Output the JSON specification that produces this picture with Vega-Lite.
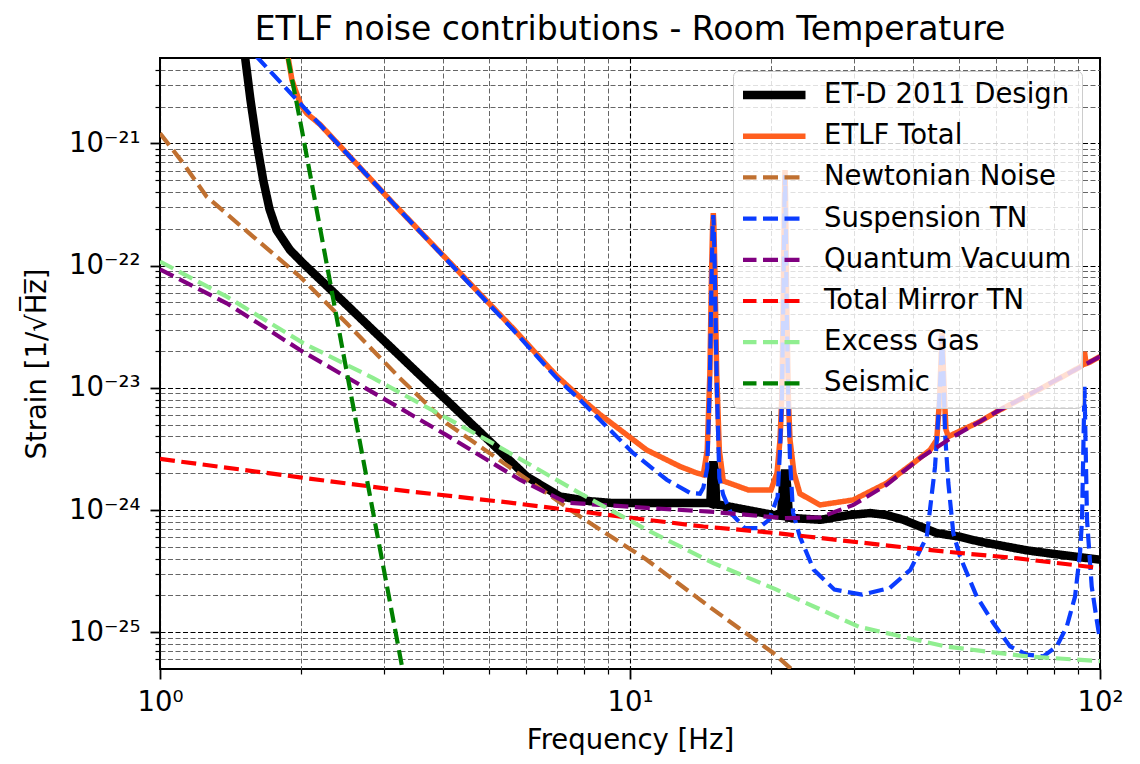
{
"$schema": "https://vega.github.io/schema/vega-lite/v6.json",
"width": 940, "height": 611,
"autosize": {"type": "none"},
"padding": {"left": 160, "top": 58, "right": 40, "bottom": 95},
"background": "white",
"title": {"text": "ETLF noise contributions - Room Temperature", "fontSize": 33, "font": "DejaVu Sans", "fontWeight": "normal", "color": "black", "anchor": "middle", "frame": "group", "offset": 11},
"config": {
  "view": {"stroke": "black", "strokeWidth": 2},
  "font": "DejaVu Sans",
  "axis": {"labelFont": "DejaVu Sans", "titleFont": "DejaVu Sans", "labelColor": "black", "titleColor": "black", "tickColor": "black", "domain": false, "titleFontWeight": "normal", "labelOverlap": false, "labelFlush": false, "labelBound": false},
  "legend": {"orient": "none", "legendX": 573, "legendY": 13, "symbolType": "stroke", "symbolSize": 4096, "symbolOffset": -6, "labelFontSize": 27.5, "labelFont": "DejaVu Sans", "labelColor": "black", "labelLimit": 400, "rowPadding": 13.2, "padding": 10, "fillColor": "rgba(255,255,255,0.8)", "strokeColor": "#cccccc", "cornerRadius": 5, "labelOffset": 14, "clipHeight": 28}
},
"resolve": {"axis": {"x": "independent", "y": "independent"}},
"layer": [
  {
    "data": {"values": [{"f": 1, "v": 1e-24}]},
    "mark": {"type": "point", "opacity": 0},
    "encoding": {
      "x": {"field": "f", "type": "quantitative", "scale": {"type": "log", "domain": [1, 100], "nice": false},
        "axis": {"orient": "bottom", "offset": 0, "values": [2,3,4,5,6,7,8,9,20,30,40,50,60,70,80,90], "labels": false, "tickSize": 5, "tickWidth": 1.2, "grid": true, "gridColor": "#555555", "gridDash": [5, 2.5], "gridWidth": 0.9, "title": null}},
      "y": {"field": "v", "type": "quantitative", "scale": {"type": "log", "domain": [5e-26, 5e-21], "nice": false},
        "axis": {"orient": "left", "offset": 0, "values": [6e-26,7e-26,8e-26,9e-26,2e-25,3e-25,4e-25,5e-25,6e-25,7e-25,8e-25,9e-25,2e-24,3e-24,4e-24,5e-24,6e-24,7e-24,8e-24,9e-24,2e-23,3e-23,4e-23,5e-23,6e-23,7e-23,8e-23,9e-23,2e-22,3e-22,4e-22,5e-22,6e-22,7e-22,8e-22,9e-22,2e-21,3e-21,4e-21], "labels": false, "tickSize": 5, "tickWidth": 1.2, "grid": true, "gridColor": "#555555", "gridDash": [5, 2.5], "gridWidth": 0.9, "title": null}}
    }
  },
  {
    "data": {"values": [
{"series":"ET-D 2011 Design","f":1.5,"v":7.0e-21},
{"series":"ET-D 2011 Design","f":1.517,"v":5.08e-21},
{"series":"ET-D 2011 Design","f":1.558,"v":2.26e-21},
{"series":"ET-D 2011 Design","f":1.609,"v":9.68e-22},
{"series":"ET-D 2011 Design","f":1.66,"v":4.9e-22},
{"series":"ET-D 2011 Design","f":1.71,"v":2.9e-22},
{"series":"ET-D 2011 Design","f":1.771,"v":1.95e-22},
{"series":"ET-D 2011 Design","f":1.891,"v":1.34e-22},
{"series":"ET-D 2011 Design","f":2.018,"v":1.04e-22},
{"series":"ET-D 2011 Design","f":2.337,"v":6.08e-23},
{"series":"ET-D 2011 Design","f":2.844,"v":2.94e-23},
{"series":"ET-D 2011 Design","f":3.574,"v":1.27e-23},
{"series":"ET-D 2011 Design","f":4.074,"v":7.91e-24},
{"series":"ET-D 2011 Design","f":4.956,"v":3.85e-24},
{"series":"ET-D 2011 Design","f":6.028,"v":1.88e-24},
{"series":"ET-D 2011 Design","f":7.097,"v":1.29e-24},
{"series":"ET-D 2011 Design","f":8.22,"v":1.18e-24},
{"series":"ET-D 2011 Design","f":9.215,"v":1.14e-24},
{"series":"ET-D 2011 Design","f":12.78,"v":1.14e-24},
{"series":"ET-D 2011 Design","f":14.72,"v":1.14e-24},
{"series":"ET-D 2011 Design","f":14.82,"v":1.13e-24},
{"series":"ET-D 2011 Design","f":14.93,"v":2.13e-24},
{"series":"ET-D 2011 Design","f":15.04,"v":2.48e-24},
{"series":"ET-D 2011 Design","f":15.15,"v":2.13e-24},
{"series":"ET-D 2011 Design","f":15.26,"v":1.11e-24},
{"series":"ET-D 2011 Design","f":15.6,"v":1.1e-24},
{"series":"ET-D 2011 Design","f":20.09,"v":9.14e-25},
{"series":"ET-D 2011 Design","f":20.96,"v":8.97e-25},
{"series":"ET-D 2011 Design","f":21.16,"v":1.61e-24},
{"series":"ET-D 2011 Design","f":21.37,"v":2.13e-24},
{"series":"ET-D 2011 Design","f":21.58,"v":1.61e-24},
{"series":"ET-D 2011 Design","f":21.79,"v":8.63e-25},
{"series":"ET-D 2011 Design","f":22.23,"v":8.59e-25},
{"series":"ET-D 2011 Design","f":25.45,"v":8.32e-25},
{"series":"ET-D 2011 Design","f":29.1,"v":9.06e-25},
{"series":"ET-D 2011 Design","f":32.41,"v":9.44e-25},
{"series":"ET-D 2011 Design","f":35.17,"v":9.1e-25},
{"series":"ET-D 2011 Design","f":38.15,"v":8.32e-25},
{"series":"ET-D 2011 Design","f":44.94,"v":6.47e-25},
{"series":"ET-D 2011 Design","f":50.36,"v":6.04e-25},
{"series":"ET-D 2011 Design","f":55.36,"v":5.52e-25},
{"series":"ET-D 2011 Design","f":69.83,"v":4.68e-25},
{"series":"ET-D 2011 Design","f":77.62,"v":4.43e-25},
{"series":"ET-D 2011 Design","f":100,"v":3.92e-25},
{"series":"ETLF Total","f":1.854,"v":6.37e-21},
{"series":"ETLF Total","f":1.909,"v":3.3e-21},
{"series":"ETLF Total","f":1.953,"v":2.56e-21},
{"series":"ETLF Total","f":1.995,"v":2.06e-21},
{"series":"ETLF Total","f":2.052,"v":1.76e-21},
{"series":"ETLF Total","f":2.19,"v":1.43e-21},
{"series":"ETLF Total","f":3.135,"v":3.23e-22},
{"series":"ETLF Total","f":5.646,"v":3.05e-23},
{"series":"ETLF Total","f":6.983,"v":1.25e-23},
{"series":"ETLF Total","f":8.089,"v":7.48e-24},
{"series":"ETLF Total","f":8.636,"v":6.04e-24},
{"series":"ETLF Total","f":10.85,"v":3.1e-24},
{"series":"ETLF Total","f":12.78,"v":2.27e-24},
{"series":"ETLF Total","f":13.86,"v":2.01e-24},
{"series":"ETLF Total","f":14.32,"v":1.94e-24},
{"series":"ETLF Total","f":14.6,"v":3.1e-24},
{"series":"ETLF Total","f":14.79,"v":1.32e-23},
{"series":"ETLF Total","f":14.91,"v":8.71e-23},
{"series":"ETLF Total","f":14.99,"v":2.15e-22},
{"series":"ETLF Total","f":15.04,"v":2.69e-22},
{"series":"ETLF Total","f":15.08,"v":2.15e-22},
{"series":"ETLF Total","f":15.16,"v":8.71e-23},
{"series":"ETLF Total","f":15.29,"v":1.32e-23},
{"series":"ETLF Total","f":15.49,"v":3.1e-24},
{"series":"ETLF Total","f":15.79,"v":1.73e-24},
{"series":"ETLF Total","f":17.85,"v":1.46e-24},
{"series":"ETLF Total","f":19.95,"v":1.46e-24},
{"series":"ETLF Total","f":20.55,"v":2.01e-24},
{"series":"ETLF Total","f":20.85,"v":3.75e-24},
{"series":"ETLF Total","f":21.03,"v":7.96e-24},
{"series":"ETLF Total","f":21.19,"v":5.24e-23},
{"series":"ETLF Total","f":21.31,"v":3.44e-22},
{"series":"ETLF Total","f":21.37,"v":6.05e-22},
{"series":"ETLF Total","f":21.43,"v":3.44e-22},
{"series":"ETLF Total","f":21.54,"v":5.24e-23},
{"series":"ETLF Total","f":21.73,"v":7.96e-24},
{"series":"ETLF Total","f":21.9,"v":3.75e-24},
{"series":"ETLF Total","f":22.33,"v":2.01e-24},
{"series":"ETLF Total","f":22.99,"v":1.36e-24},
{"series":"ETLF Total","f":25.37,"v":1.1e-24},
{"series":"ETLF Total","f":29.87,"v":1.21e-24},
{"series":"ETLF Total","f":35.17,"v":1.66e-24},
{"series":"ETLF Total","f":40.06,"v":2.42e-24},
{"series":"ETLF Total","f":43.5,"v":3.1e-24},
{"series":"ETLF Total","f":44.94,"v":3.75e-24},
{"series":"ETLF Total","f":45.56,"v":7.96e-24},
{"series":"ETLF Total","f":45.89,"v":1.69e-23},
{"series":"ETLF Total","f":46.12,"v":2.81e-23},
{"series":"ETLF Total","f":46.35,"v":1.69e-23},
{"series":"ETLF Total","f":46.69,"v":7.96e-24},
{"series":"ETLF Total","f":47.03,"v":4.53e-24},
{"series":"ETLF Total","f":47.56,"v":3.99e-24},
{"series":"ETLF Total","f":55.55,"v":5.3e-24},
{"series":"ETLF Total","f":60.29,"v":6.38e-24},
{"series":"ETLF Total","f":74.5,"v":9.75e-24},
{"series":"ETLF Total","f":90.68,"v":1.48e-23},
{"series":"ETLF Total","f":92.01,"v":1.55e-23},
{"series":"ETLF Total","f":92.69,"v":1.97e-23},
{"series":"ETLF Total","f":93.37,"v":1.58e-23},
{"series":"ETLF Total","f":94.77,"v":1.61e-23},
{"series":"ETLF Total","f":100,"v":1.8e-23},
{"series":"Newtonian Noise","f":1,"v":1.21e-21},
{"series":"Newtonian Noise","f":1.121,"v":6.86e-22},
{"series":"Newtonian Noise","f":1.257,"v":3.66e-22},
{"series":"Newtonian Noise","f":1.58,"v":1.72e-22},
{"series":"Newtonian Noise","f":1.986,"v":8.11e-23},
{"series":"Newtonian Noise","f":2.496,"v":3.37e-23},
{"series":"Newtonian Noise","f":3.24,"v":1.2e-23},
{"series":"Newtonian Noise","f":4.07,"v":5.14e-24},
{"series":"Newtonian Noise","f":5.65,"v":2.13e-24},
{"series":"Newtonian Noise","f":7.83,"v":8.85e-25},
{"series":"Newtonian Noise","f":10.85,"v":3.92e-25},
{"series":"Newtonian Noise","f":15.04,"v":1.53e-25},
{"series":"Newtonian Noise","f":20.18,"v":6.76e-26},
{"series":"Newtonian Noise","f":23.5,"v":4.0e-26},
{"series":"Suspension TN","f":1.489,"v":7.0e-21},
{"series":"Suspension TN","f":3.135,"v":3.23e-22},
{"series":"Suspension TN","f":5.646,"v":2.97e-23},
{"series":"Suspension TN","f":6.983,"v":1.2e-23},
{"series":"Suspension TN","f":7.828,"v":7.96e-24},
{"series":"Suspension TN","f":10.16,"v":2.92e-24},
{"series":"Suspension TN","f":11.97,"v":1.77e-24},
{"series":"Suspension TN","f":13.42,"v":1.38e-24},
{"series":"Suspension TN","f":14.09,"v":1.36e-24},
{"series":"Suspension TN","f":14.32,"v":1.52e-24},
{"series":"Suspension TN","f":14.6,"v":2.21e-24},
{"series":"Suspension TN","f":14.79,"v":1.16e-23},
{"series":"Suspension TN","f":14.91,"v":7.93e-23},
{"series":"Suspension TN","f":14.99,"v":2.03e-22},
{"series":"Suspension TN","f":15.04,"v":2.59e-22},
{"series":"Suspension TN","f":15.08,"v":2.03e-22},
{"series":"Suspension TN","f":15.16,"v":7.93e-23},
{"series":"Suspension TN","f":15.29,"v":1.16e-23},
{"series":"Suspension TN","f":15.49,"v":1.83e-24},
{"series":"Suspension TN","f":15.79,"v":1.33e-24},
{"series":"Suspension TN","f":16.4,"v":9.44e-25},
{"series":"Suspension TN","f":17.55,"v":7.11e-25},
{"series":"Suspension TN","f":18.78,"v":7.11e-25},
{"series":"Suspension TN","f":19.76,"v":8.32e-25},
{"series":"Suspension TN","f":20.61,"v":1.28e-24},
{"series":"Suspension TN","f":20.85,"v":3.1e-24},
{"series":"Suspension TN","f":21.03,"v":7.24e-24},
{"series":"Suspension TN","f":21.19,"v":4.77e-23},
{"series":"Suspension TN","f":21.31,"v":3.13e-22},
{"series":"Suspension TN","f":21.37,"v":5.51e-22},
{"series":"Suspension TN","f":21.43,"v":3.13e-22},
{"series":"Suspension TN","f":21.54,"v":4.77e-23},
{"series":"Suspension TN","f":21.73,"v":7.24e-24},
{"series":"Suspension TN","f":21.9,"v":2.57e-24},
{"series":"Suspension TN","f":22.23,"v":9.5e-25},
{"series":"Suspension TN","f":22.99,"v":6.04e-25},
{"series":"Suspension TN","f":24.6,"v":3.24e-25},
{"series":"Suspension TN","f":27.23,"v":2.23e-25},
{"series":"Suspension TN","f":31.18,"v":2.03e-25},
{"series":"Suspension TN","f":35.69,"v":2.3e-25},
{"series":"Suspension TN","f":39.48,"v":3.24e-25},
{"series":"Suspension TN","f":42.8,"v":6.04e-25},
{"series":"Suspension TN","f":44.56,"v":2.25e-24},
{"series":"Suspension TN","f":45.29,"v":5.78e-24},
{"series":"Suspension TN","f":45.78,"v":1.28e-23},
{"series":"Suspension TN","f":46.12,"v":2.66e-23},
{"series":"Suspension TN","f":46.46,"v":1.28e-23},
{"series":"Suspension TN","f":46.8,"v":4.28e-24},
{"series":"Suspension TN","f":47.56,"v":1.67e-24},
{"series":"Suspension TN","f":48.74,"v":6.47e-25},
{"series":"Suspension TN","f":50.36,"v":4.17e-25},
{"series":"Suspension TN","f":54.66,"v":1.96e-25},
{"series":"Suspension TN","f":59.29,"v":1.19e-25},
{"series":"Suspension TN","f":64.35,"v":7.66e-26},
{"series":"Suspension TN","f":69.83,"v":6.55e-26},
{"series":"Suspension TN","f":75.75,"v":6.34e-26},
{"series":"Suspension TN","f":80.9,"v":7.66e-26},
{"series":"Suspension TN","f":84.96,"v":1.11e-25},
{"series":"Suspension TN","f":88.49,"v":1.96e-25},
{"series":"Suspension TN","f":90.68,"v":4.45e-25},
{"series":"Suspension TN","f":91.57,"v":8.32e-25},
{"series":"Suspension TN","f":92.24,"v":3.75e-24},
{"series":"Suspension TN","f":92.69,"v":1.02e-23},
{"series":"Suspension TN","f":93.15,"v":3.75e-24},
{"series":"Suspension TN","f":93.84,"v":8.32e-25},
{"series":"Suspension TN","f":96.02,"v":2.37e-25},
{"series":"Suspension TN","f":98.4,"v":1.26e-25},
{"series":"Suspension TN","f":100,"v":8.6e-26},
{"series":"Quantum Vacuum","f":1,"v":9.33e-23},
{"series":"Quantum Vacuum","f":1.387,"v":4.92e-23},
{"series":"Quantum Vacuum","f":1.986,"v":2.04e-23},
{"series":"Quantum Vacuum","f":2.94,"v":8.47e-24},
{"series":"Quantum Vacuum","f":4.07,"v":4.1e-24},
{"series":"Quantum Vacuum","f":5.83,"v":1.77e-24},
{"series":"Quantum Vacuum","f":7.33,"v":1.15e-24},
{"series":"Quantum Vacuum","f":10.85,"v":1.04e-24},
{"series":"Quantum Vacuum","f":14.8,"v":9.7e-25},
{"series":"Quantum Vacuum","f":21.2,"v":8.59e-25},
{"series":"Quantum Vacuum","f":25.37,"v":8.7e-25},
{"series":"Quantum Vacuum","f":29.87,"v":1.1e-24},
{"series":"Quantum Vacuum","f":35.17,"v":1.61e-24},
{"series":"Quantum Vacuum","f":41.4,"v":2.65e-24},
{"series":"Quantum Vacuum","f":48.74,"v":3.99e-24},
{"series":"Quantum Vacuum","f":55.55,"v":5.3e-24},
{"series":"Quantum Vacuum","f":60.29,"v":6.38e-24},
{"series":"Quantum Vacuum","f":100,"v":1.8e-23},
{"series":"Total Mirror TN","f":1,"v":2.62e-24},
{"series":"Total Mirror TN","f":1.986,"v":1.85e-24},
{"series":"Total Mirror TN","f":3.19,"v":1.46e-24},
{"series":"Total Mirror TN","f":5.65,"v":1.14e-24},
{"series":"Total Mirror TN","f":10.85,"v":8.32e-25},
{"series":"Total Mirror TN","f":14.33,"v":7.33e-25},
{"series":"Total Mirror TN","f":20.5,"v":6.47e-25},
{"series":"Total Mirror TN","f":23.79,"v":6.07e-25},
{"series":"Total Mirror TN","f":39.48,"v":4.88e-25},
{"series":"Total Mirror TN","f":50.36,"v":4.45e-25},
{"series":"Total Mirror TN","f":65.56,"v":4.05e-25},
{"series":"Total Mirror TN","f":100,"v":3.35e-25},
{"series":"Excess Gas","f":1,"v":1.08e-22},
{"series":"Excess Gas","f":1.387,"v":5.57e-23},
{"series":"Excess Gas","f":2.018,"v":2.32e-23},
{"series":"Excess Gas","f":2.843,"v":1.2e-23},
{"series":"Excess Gas","f":4.956,"v":3.75e-24},
{"series":"Excess Gas","f":7.83,"v":1.37e-24},
{"series":"Excess Gas","f":10.85,"v":6.89e-25},
{"series":"Excess Gas","f":15.04,"v":3.68e-25},
{"series":"Excess Gas","f":20.5,"v":2.23e-25},
{"series":"Excess Gas","f":30.65,"v":1.11e-25},
{"series":"Excess Gas","f":46.76,"v":7.66e-26},
{"series":"Excess Gas","f":69.83,"v":6.34e-26},
{"series":"Excess Gas","f":100,"v":5.8e-26},
{"series":"Seismic","f":1.8,"v":1.1e-20},
{"series":"Seismic","f":1.87,"v":5.08e-21},
{"series":"Seismic","f":2.0,"v":1.34e-21},
{"series":"Seismic","f":2.5,"v":1.31e-23},
{"series":"Seismic","f":3.0,"v":3.13e-25},
{"series":"Seismic","f":3.4,"v":2.4e-26}
    ]},
    "mark": {"type": "line", "clip": true},
    "encoding": {
      "x": {"field": "f", "type": "quantitative", "scale": {"type": "log", "domain": [1, 100], "nice": false},
        "axis": {"orient": "bottom", "offset": 0, "values": [1, 10, 100], "labelExpr": "datum.value < 5 ? '10⁰' : datum.value < 50 ? '10¹' : '10²'", "labelFontSize": 27.5, "tickSize": 10, "tickWidth": 1.8, "labelPadding": 9, "grid": true, "gridColor": "#000000", "gridDash": [5, 2.5], "gridWidth": 1.1, "title": "Frequency [Hz]", "titleFontSize": 27.5, "titlePadding": 11}},
      "y": {"field": "v", "type": "quantitative", "scale": {"type": "log", "domain": [5e-26, 5e-21], "nice": false},
        "axis": {"orient": "left", "offset": 0, "values": [1e-25, 1e-24, 1e-23, 1e-22, 1e-21], "labelExpr": "datum.value < 5e-25 ? '10⁻²⁵' : datum.value < 5e-24 ? '10⁻²⁴' : datum.value < 5e-23 ? '10⁻²³' : datum.value < 5e-22 ? '10⁻²²' : '10⁻²¹'", "labelFontSize": 27.5, "tickSize": 10, "tickWidth": 1.8, "labelPadding": 10, "grid": true, "gridColor": "#000000", "gridDash": [5, 2.5], "gridWidth": 1.1, "title": "Strain [1/√H̅z̅]", "titleFontSize": 27.5, "titlePadding": 17}},
      "color": {"field": "series", "type": "nominal", "legend": {"title": null},
        "scale": {"domain": ["ET-D 2011 Design", "ETLF Total", "Newtonian Noise", "Suspension TN", "Quantum Vacuum", "Total Mirror TN", "Excess Gas", "Seismic"],
                  "range": ["#000000", "#ff5f1f", "#c07030", "#0a3cff", "#800080", "#ff0000", "#90ee90", "#008000"]}},
      "strokeDash": {"field": "series", "type": "nominal", "legend": {"title": null},
        "scale": {"domain": ["ET-D 2011 Design", "ETLF Total", "Newtonian Noise", "Suspension TN", "Quantum Vacuum", "Total Mirror TN", "Excess Gas", "Seismic"],
                  "range": [[1, 0], [1, 0], [15, 6.5], [15, 6.5], [15, 6.5], [15, 6.5], [15, 6.5], [15, 6.5]]}},
      "strokeWidth": {"field": "series", "type": "nominal", "legend": {"title": null},
        "scale": {"type": "ordinal", "domain": ["ET-D 2011 Design", "ETLF Total", "Newtonian Noise", "Suspension TN", "Quantum Vacuum", "Total Mirror TN", "Excess Gas", "Seismic"],
                  "range": [8.5, 5.5, 4.2, 4.2, 4.2, 4.2, 4.2, 4.2]}}
    }
  }
]
}
